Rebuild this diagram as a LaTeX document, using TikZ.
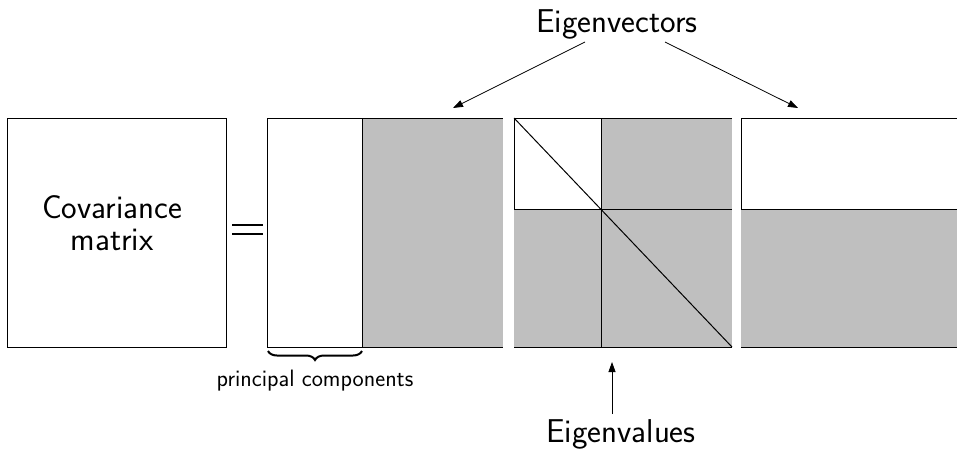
\documentclass[tikz,border=0pt]{standalone}
\usetikzlibrary{decorations.pathreplacing,arrows.meta}
\begin{document}
\begin{tikzpicture}[x=1pt,y=-1pt,line width=1pt,
  lbl/.style={font=\sffamily\fontsize{33}{32}\selectfont,inner sep=0pt,align=center},
  small/.style={font=\sffamily\fontsize{23.7}{27}\selectfont,inner sep=0pt},
  arr/.style={-{Triangle[length=10pt,width=7pt]},line width=0.8pt},
  fillg/.style={fill=black!25}]
\useasboundingbox (0,0) rectangle (957,448);
% box 1
\draw (7,118) rectangle (226,347);
\node[lbl] (cov) at (112,223) {Covariance\\matrix};
% equals
\draw[line width=1.3pt] (232,225) -- (263,225) (232,234) -- (263,234);
% box 2
\fill[fillg] (362,118) rectangle (503,347);
\draw (267,118) rectangle (362,347);
\draw (362,118) -- (503,118) (362,347) -- (503,347);
% box 3
\fill[fillg] (514,209) rectangle (732,347);
\fill[fillg] (601,118) rectangle (732,209);
\draw (514,118) rectangle (601,209);
\draw (601,118) -- (732,118) (514,347) -- (732,347) (514,209) -- (732,209);
\draw[line width=0.8pt] (601,209) -- (601,347);
\draw (514,118) -- (732,347);
% box 4
\fill[fillg] (741,209) rectangle (957,347);
\draw (957,118) -- (741,118) -- (741,209) -- (957,209);
\draw (741,347) -- (957,347);
% brace
\draw[decorate,decoration={brace,amplitude=9pt,mirror,aspect=0.5},line width=2pt] (268,351) -- (362,351);
\node[small,anchor=base] (pc) at (315,386) {principal components};
% eigenvectors
\node[lbl,anchor=base] (ev) at (617,32) {Eigenvectors};
\coordinate (evl) at (453,108);
\coordinate (evr) at (798,108);
\coordinate (evls) at (585,42);
\coordinate (evrs) at (665,42);
\draw[arr] (evls) -- (evl);
\draw[arr] (evrs) -- (evr);
% eigenvalues
\node[lbl,anchor=base] (eval) at (621,442) {Eigenvalues};
\coordinate (evalb) at (612,414);
\coordinate (evalt) at (612,362);
\draw[arr] (evalb) -- (evalt);
\end{tikzpicture}
\end{document}
